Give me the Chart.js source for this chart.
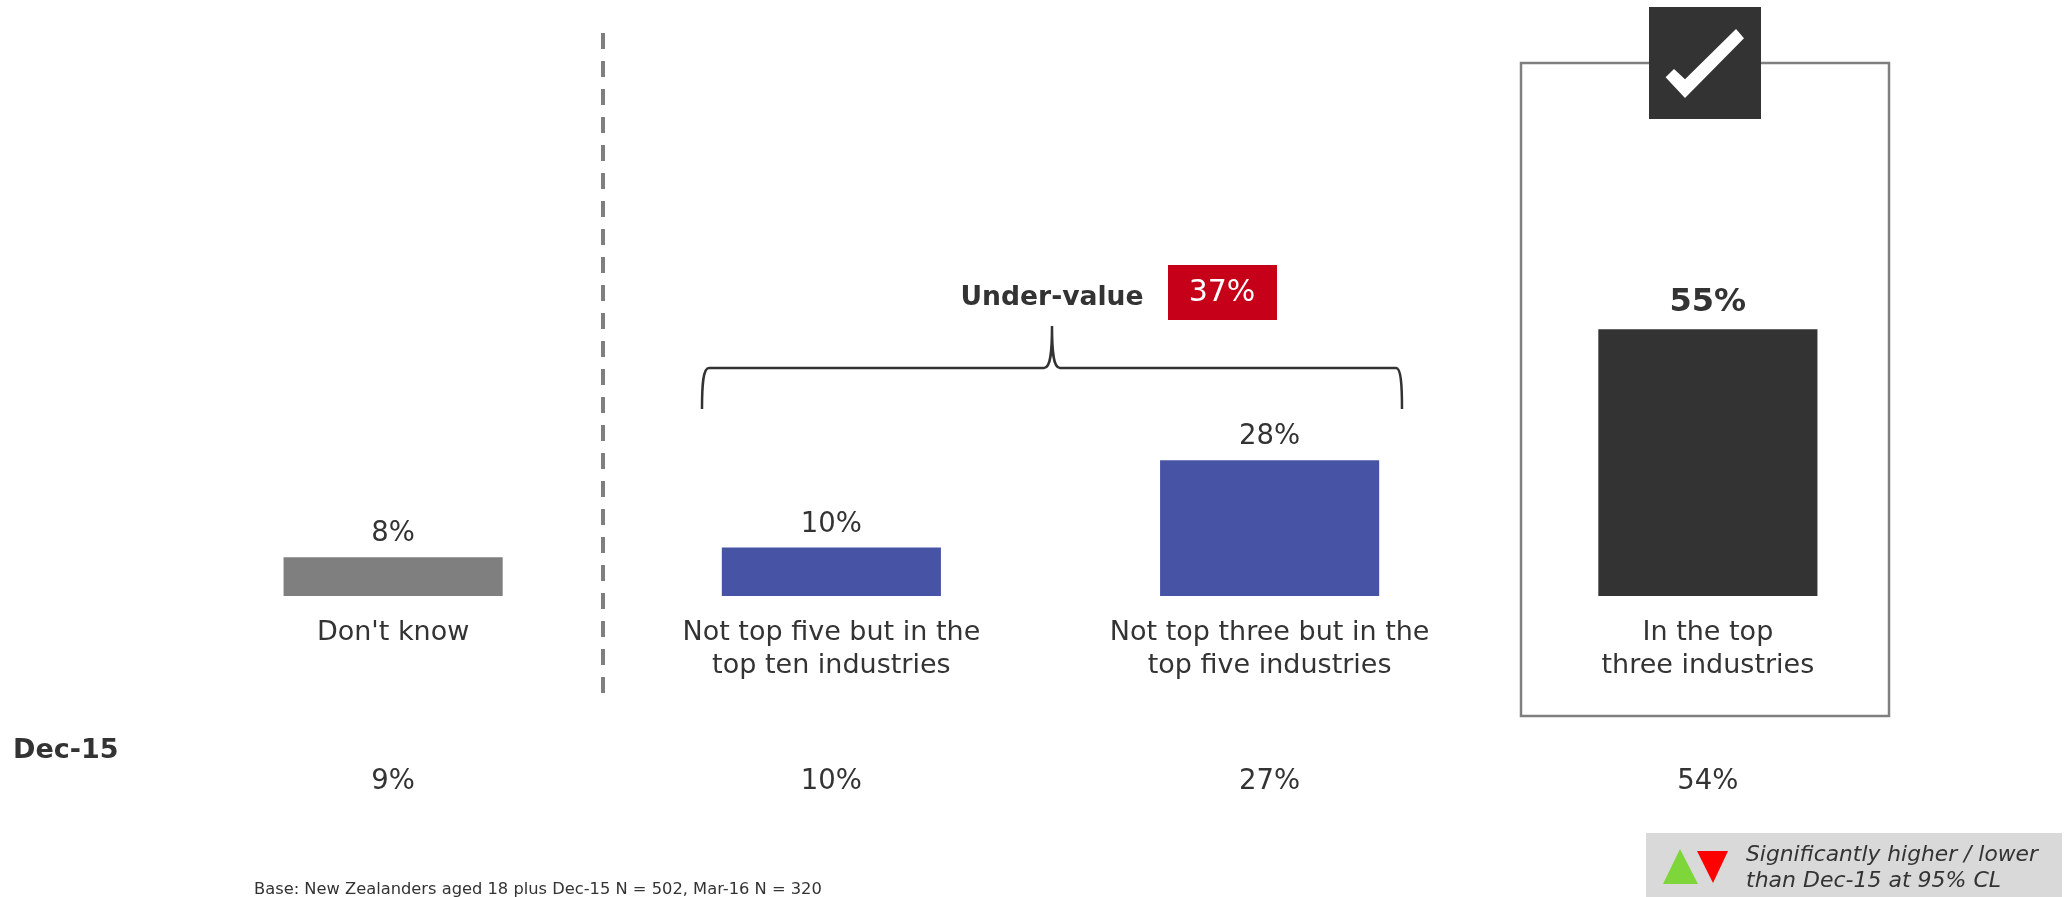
<!DOCTYPE html>
<html>
<head>
<meta charset="utf-8">
<title>Industry ranking</title>
<script src="https://cdn.jsdelivr.net/npm/chart.js@4"></script>
<style>
    html, body { margin: 0; padding: 0; background: #ffffff; overflow: hidden; }
    canvas { display: block; }
</style>
</head>
<body>
<canvas id="industrias" width="2069" height="897"></canvas>
<script>
const categories = [
    ["Don't know"],
    ['Not top five but in the', 'top ten industries'],
    ['Not top three but in the', 'top five industries'],
    ['In the top', 'three industries']
];
const mar16 = [8, 10, 28, 55];
const dec15 = [9, 10, 27, 54];
const underValue = 37;
const barColors = ['#7f7f7f', '#4754a5', '#4754a5', '#333333'];

const TEXT = '#333333';
const FONT = '"DejaVu Sans"';

function escreve(ctx, text, x, y, font, color, align) {
    ctx.font = font;
    ctx.fillStyle = color;
    ctx.textAlign = align || 'center';
    ctx.textBaseline = 'middle';
    ctx.fillText(text, x, y);
}

function poligono(ctx, pts, color) {
    ctx.fillStyle = color;
    ctx.beginPath();
    pts.forEach(function(p, i) {
        if (i == 0) ctx.moveTo(p[0], p[1]);
        else ctx.lineTo(p[0], p[1]);
    });
    ctx.closePath();
    ctx.fill();
}

// everything around the bars: highlight box, separator, brace, legend
const extras = {
    id: 'extras',
    beforeDatasetsDraw(chart) {
        const ctx = chart.ctx;
        ctx.save();
        ctx.strokeStyle = '#7f7f7f';
        ctx.lineWidth = 2.5;
        ctx.strokeRect(1521, 63, 368, 653);

        ctx.lineWidth = 4;
        ctx.setLineDash([16, 12]);
        ctx.beginPath();
        ctx.moveTo(603, 33);
        ctx.lineTo(603, 693);
        ctx.stroke();
        ctx.restore();
    },
    afterDatasetsDraw(chart) {
        const ctx = chart.ctx;
        const x = chart.scales.x;
        const y = chart.scales.y;
        ctx.save();

        // value above each bar, the last one in bold
        mar16.forEach(function(v, i) {
            const top = y.getPixelForValue(v);
            const bold = i == mar16.length - 1;
            escreve(ctx, v + '%', x.getPixelForValue(i), top - (bold ? 27 : 23),
                (bold ? 'bold 32px ' : '27.5px ') + FONT, TEXT);
        });

        // previous wave row
        escreve(ctx, 'Dec-15', 13, 751, 'bold 27px ' + FONT, TEXT, 'left');
        dec15.forEach(function(v, i) {
            escreve(ctx, v + '%', x.getPixelForValue(i), 782, '27.5px ' + FONT, TEXT);
        });

        // tick box on top of the highlight
        ctx.fillStyle = '#333333';
        ctx.fillRect(1649, 7, 112, 112);
        poligono(ctx, [[1665.6, 77.3], [1674, 69], [1685, 79.3], [1736, 29], [1744, 38.3], [1685, 98]], '#ffffff');

        // brace over the two middle bars
        ctx.strokeStyle = '#333333';
        ctx.lineWidth = 2.5;
        ctx.beginPath();
        ctx.moveTo(702, 409);
        ctx.bezierCurveTo(702, 385, 703, 368, 709, 368);
        ctx.lineTo(1044, 368);
        ctx.bezierCurveTo(1051, 368, 1052, 350, 1052, 326);
        ctx.bezierCurveTo(1052, 350, 1053, 368, 1060, 368);
        ctx.lineTo(1396, 368);
        ctx.bezierCurveTo(1401, 368, 1402, 385, 1402, 409);
        ctx.stroke();

        escreve(ctx, 'Under-value', 1052, 298, 'bold 26.6px ' + FONT, TEXT);
        ctx.fillStyle = '#c50018';
        ctx.fillRect(1168, 265, 109, 55);
        escreve(ctx, underValue + '%', 1222, 293, '30px ' + FONT, '#ffffff');

        // legend
        ctx.fillStyle = '#d9d9d9';
        ctx.fillRect(1646, 833, 416, 64);
        poligono(ctx, [[1680, 849], [1698, 884], [1663, 884]], '#7ed63a');
        poligono(ctx, [[1697, 851], [1728, 851], [1713, 883]], '#ff0000');
        escreve(ctx, 'Significantly higher / lower', 1746, 855, 'italic 21.8px ' + FONT, TEXT, 'left');
        escreve(ctx, 'than Dec-15 at 95% CL', 1746, 881, 'italic 22px ' + FONT, TEXT, 'left');

        escreve(ctx, 'Base: New Zealanders aged 18 plus Dec-15 N = 502, Mar-16 N = 320', 254, 890,
            '16.3px ' + FONT, TEXT, 'left');
        ctx.restore();
    }
};

const ctx = document.getElementById('industrias').getContext('2d');
const myChart = new Chart(ctx, {
    type: 'bar',
    data: {
        labels: categories,
        datasets: [{
            label: 'Mar-16',
            data: mar16,
            backgroundColor: barColors,
            borderWidth: 0,
            barPercentage: 0.5,
            categoryPercentage: 1
        }]
    },
    plugins: [extras],
    options: {
        responsive: false,
        animation: false,
        layout: {
            padding: { left: 174, right: 142, top: 305, bottom: 0 }
        },
        plugins: {
            legend: { display: false },
            tooltip: { enabled: false }
        },
        scales: {
            x: {
                grid: { display: false },
                border: { display: false },
                afterFit: function(scale) { scale.height = 301; },
                ticks: {
                    color: TEXT,
                    padding: 12,
                    maxRotation: 0,
                    autoSkip: false,
                    font: { family: 'DejaVu Sans', size: 27, lineHeight: 33 / 27 }
                }
            },
            y: {
                display: false,
                min: 0,
                max: 60
            }
        }
    }
});
</script>
</body>
</html>
